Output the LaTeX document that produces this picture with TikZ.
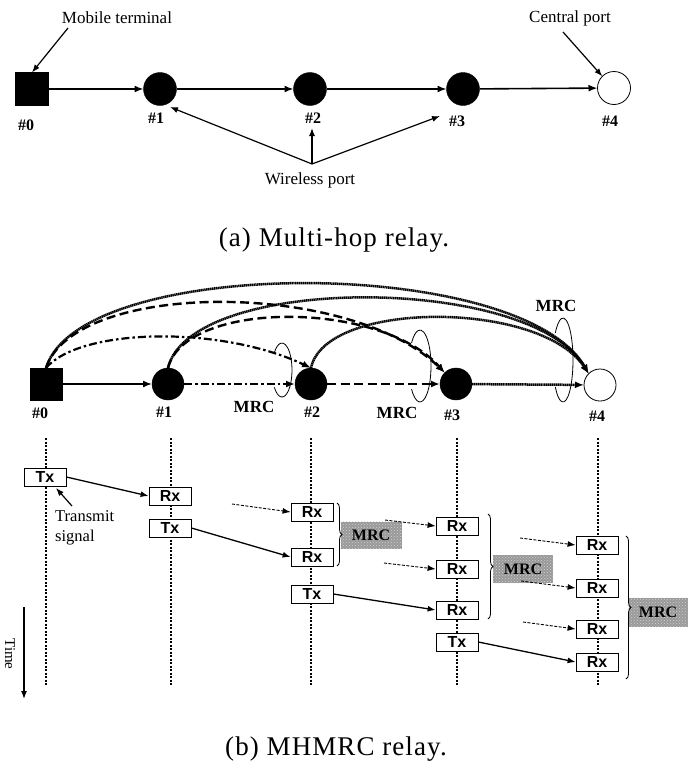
\documentclass[tikz,border=0pt]{standalone}
\usepackage{fontspec}
\setmainfont{Liberation Serif}
\setsansfont{Liberation Sans}
\newfontfamily\capfont[LetterSpace=4]{Liberation Serif}
\usetikzlibrary{arrows.meta,patterns,decorations.pathreplacing,calc}
\newcommand\myfs[1]{\fontsize{#1}{#1}\selectfont}
\begin{document}
\begin{tikzpicture}[x=1pt,y=-1pt,
  sqr/.style={draw,fill=black,minimum size=32pt,inner sep=0pt,outer sep=0pt},
  fdot/.style={circle,draw,fill=black,minimum size=32pt,inner sep=0pt,outer sep=0pt},
  odot/.style={circle,draw,fill=white,line width=0.8pt,minimum size=32pt,inner sep=0pt,outer sep=0pt},
  lab/.style={font=\bfseries\myfs{16}},
  txt/.style={font=\myfs{17}},
  captext/.style={font=\capfont\myfs{27}},
  mainarr/.style={line width=1.6pt,-{Latex[length=9pt,width=7pt]}},
  ptr/.style={line width=1.2pt,-{Latex[length=8pt,width=6pt]}},
  dotline/.style={line width=2.5pt,dash pattern=on 1.4pt off 0.5pt,-{Latex[length=9pt,width=7pt]}},
  dashline/.style={line width=2.4pt,dash pattern=on 9pt off 4.5pt,-{Latex[length=9pt,width=7pt]}},
  ddline/.style={line width=2.2pt,dash pattern=on 8pt off 3pt on 2.5pt off 3pt,-{Latex[length=9pt,width=7pt]}},
  curl/.style={line width=0.8pt},
  mrclab/.style={font=\bfseries\myfs{17}},
  trx/.style={draw,fill=white,line width=0.8pt,minimum width=42pt,minimum height=18pt,inner sep=0pt,font=\sffamily\bfseries\myfs{16}},
  vline/.style={line width=1.2pt,dash pattern=on 2pt off 1.5pt},
  sig/.style={line width=1.3pt,-{Latex[length=8pt,width=6pt]}},
  weak/.style={line width=0.9pt,dash pattern=on 3pt off 1.5pt,-{Latex[length=8pt,width=6pt]}},
  brc/.style={line width=0.8pt,decorate,decoration={brace,amplitude=5pt}},
  mrcbox/.style={fill=gray!80,postaction={pattern=crosshatch dots,pattern color=gray!35},inner sep=0pt,font=\bfseries\myfs{16},text=black},
]
\path[use as bounding box] (0,0) rectangle (698,763);

% ---------------- (a) ----------------
\node[sqr,minimum size=33pt] (a0) at (32,89) {};
\node[fdot,minimum size=33pt] (a1) at (160,89) {};
\node[fdot,minimum size=33pt] (a2) at (310,89) {};
\node[fdot,minimum size=33pt] (a3) at (463,89) {};
\node[odot,minimum size=33pt] (a4) at (614,88) {};

\draw[mainarr] (a0) -- (a1);
\draw[mainarr] (a1) -- (a2);
\draw[mainarr] (a2) -- (a3);
\draw[mainarr] (a3) -- (a4);

\node[lab] (la0) at (26,125) {\#0};
\node[lab] (la1) at (156,118) {\#1};
\node[lab] (la2) at (313,118) {\#2};
\node[lab] (la3) at (457,121) {\#3};
\node[lab] (la4) at (610,121) {\#4};

\node[txt] (mt) at (117,18) {Mobile terminal};
\node[txt] (cp) at (570,18) {Central port};
\node[txt] (wpl) at (310,180) {Wireless port};
\coordinate (mtA) at (68,28);
\coordinate (cpA) at (563,32);
\draw[ptr] (mtA) -- (a0.north);
\draw[ptr] (cpA) -- (a4.north west);
\coordinate (wp) at (312,164);
\coordinate (w1) at (170,107);
\coordinate (w2) at (312,128);
\coordinate (w3) at (440,116);
\draw[ptr] (wp) -- (w1);
\draw[ptr] (wp) -- (w2);
\draw[ptr] (wp) -- (w3);

\node[captext] (capa) at (334,240) {(a) Multi-hop relay.};

% ---------------- (b) ----------------
\node[sqr] (b0) at (46,384) {};
\node[fdot] (b1) at (168,384) {};
\node[fdot] (b2) at (311,384) {};
\node[fdot] (b3) at (456,384) {};
\node[odot] (b4) at (600,385) {};

\draw[mainarr] (b0) -- (b1);
\draw[ddline] (b1) -- (b2);
\draw[dashline] (b2) -- (b3);
\draw[dotline] (b3) -- (b4);

\draw[dotline] (b0.north) .. controls (80,255) and (520,255) .. (b4.north west);
\draw[dotline] (b1.north) .. controls (190,274) and (530,274) .. (b4.north west);
\draw[dotline] (b2.north) .. controls (325,300) and (540,300) .. (b4.north west);
\draw[dashline] (b0.north) .. controls (75,280) and (350,280) .. (b3.north west);
\draw[dashline] (b1.north) .. controls (185,300) and (380,300) .. (b3.north west);
\draw[ddline] (b0.north) .. controls (80,328) and (220,325) .. (b2.north);

\coordinate (c2) at (282,370);
\coordinate (c3) at (420,366);
\coordinate (c4) at (563,360);
\draw[curl] (c2) ++(140:10 and 27) arc[start angle=140,end angle=-140,x radius=10,y radius=27];
\draw[curl] (c3) ++(140:11 and 36) arc[start angle=140,end angle=-140,x radius=11,y radius=36];
\draw[curl] (c4) ++(140:10 and 42) arc[start angle=140,end angle=-140,x radius=10,y radius=42];

\node[mrclab] (m2) at (254,407) {MRC};
\node[mrclab] (m3) at (397,413) {MRC};
\node[mrclab] (m4) at (556,306) {MRC};

\node[lab] (lb0) at (40,413) {\#0};
\node[lab] (lb1) at (164,412) {\#1};
\node[lab] (lb2) at (312,412) {\#2};
\node[lab] (lb3) at (452,415) {\#3};
\node[lab] (lb4) at (597,416) {\#4};

% timing
\foreach \n/\x in {0/46,1/171,2/311,3/457,4/598}{
  \coordinate (v\n t) at (\x,438);
  \coordinate (v\n b) at (\x,685);
  \draw[vline] (v\n t) -- (v\n b);
}

\node[trx] (tx0) at (45,477) {Tx};
\node[trx] (rx1) at (170,496) {Rx};
\node[trx] (tx1) at (170,528) {Tx};
\node[trx] (rx2a) at (312,512) {Rx};
\node[trx] (rx2b) at (312,557) {Rx};
\node[trx] (tx2) at (312,594) {Tx};
\node[trx] (rx3a) at (457,526) {Rx};
\node[trx] (rx3b) at (457,569) {Rx};
\node[trx] (rx3c) at (457,610) {Rx};
\node[trx] (tx3) at (457,642) {Tx};
\node[trx] (rx4a) at (597,545) {Rx};
\node[trx] (rx4b) at (597,588) {Rx};
\node[trx] (rx4c) at (597,629) {Rx};
\node[trx] (rx4d) at (597,662) {Rx};

\node[mrcbox,minimum width=61pt,minimum height=27pt] (mb2) at (371,535) {MRC};
\node[mrcbox,minimum width=60pt,minimum height=28pt] (mb3) at (523,569) {MRC};
\node[mrcbox,minimum width=59pt,minimum height=29pt] (mb4) at (658,612) {MRC};

\coordinate (br2t) at (337,503);
\coordinate (br2b) at (337,566);
\coordinate (br3t) at (488,514);
\coordinate (br3b) at (488,619);
\coordinate (br4t) at (626,536);
\coordinate (br4b) at (626,679);
\draw[brc] (br2t) -- (br2b);
\draw[brc] (br3t) -- (br3b);
\draw[brc] (br4t) -- (br4b);

\draw[sig] (tx0.east) -- (rx1.west);
\draw[sig] (tx1.east) -- (rx2b.west);
\draw[sig] (tx2.east) -- (rx3c.west);
\draw[sig] (tx3.east) -- (rx4d.west);

\coordinate (d2a) at (232,504);
\coordinate (d3a) at (385,520);
\coordinate (d3b) at (384,563);
\coordinate (d4a) at (520,538);
\coordinate (d4b) at (521,581);
\coordinate (d4c) at (523,622);
\draw[weak] (d2a) -- (rx2a.west);
\draw[weak] (d3a) -- (rx3a.west);
\draw[weak] (d3b) -- (rx3b.west);
\draw[weak] (d4a) -- (rx4a.west);
\draw[weak] (d4b) -- (rx4b.west);
\draw[weak] (d4c) -- (rx4c.west);

\node[align=left,anchor=north west,inner sep=0pt,font=\fontsize{16.5}{20}\selectfont] (ts) at (55,510) {Transmit\\signal};
\coordinate (tsA) at (72,506);
\coordinate (tsB) at (56,488);
\draw[ptr] (tsA) -- (tsB);

\node[rotate=-90,font=\myfs{15}] (time) at (10,654) {Time};
\coordinate (tmA) at (24,607);
\coordinate (tmB) at (24,699);
\draw[ptr] (tmA) -- (tmB);

\node[captext] (capb) at (336,749) {(b) MHMRC relay.};
\end{tikzpicture}
\end{document}
